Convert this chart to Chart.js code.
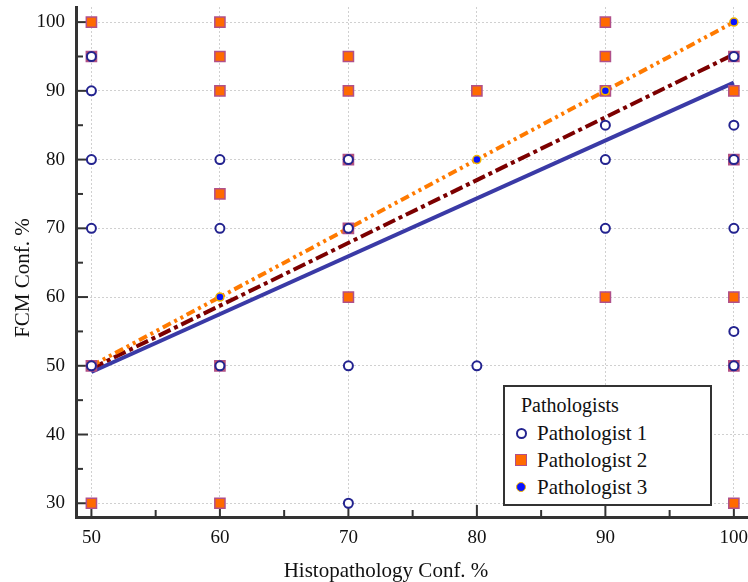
<!DOCTYPE html>
<html>
<head>
<meta charset="utf-8">
<script src="https://cdn.jsdelivr.net/npm/chart.js@4.4.0/dist/chart.umd.min.js"></script>
<style>
html,body{margin:0;padding:0;background:#fff;}
#wrap{position:relative;width:748px;height:582px;overflow:hidden;font-family:"Liberation Serif","DejaVu Serif",serif;color:#111;}
#c{position:absolute;left:0;top:0;}
#xt{position:absolute;left:0;width:772px;top:557px;height:26px;line-height:26px;text-align:center;font-size:21px;}
#yt{position:absolute;left:-128px;top:265px;width:300px;height:26px;line-height:26px;text-align:center;font-size:21px;transform:rotate(-90deg);}
#leg{position:absolute;left:503px;top:385px;width:205px;height:117px;border:2px solid #333;background:#fff;}
#leg .ttl{position:absolute;left:16px;top:6px;font-size:20px;line-height:24px;white-space:nowrap;}
#leg .row{position:absolute;left:0;height:26px;width:200px;}
#leg .mk{position:absolute;box-sizing:border-box;}
#leg .lb{position:absolute;left:32px;top:0;font-size:21px;line-height:26px;white-space:nowrap;}
</style>
</head>
<body>
<div id="wrap">
<canvas id="c" width="748" height="582"></canvas>
<div id="xt"></div>
<div id="yt"></div>
<div id="leg"></div>
</div>
<script>
// ---- data ----
const xAxisTitle = 'Histopathology Conf. %';
const yAxisTitle = 'FCM Conf. %';
const legendTitle = 'Pathologists';
const seriesNames = ['Pathologist 1', 'Pathologist 2', 'Pathologist 3'];

const xMajorTicks = [50, 60, 70, 80, 90, 100];
const xMinorTicks = [55, 65, 75, 85, 95];
const yMajorTicks = [30, 40, 50, 60, 70, 80, 90, 100];
const yMinorTicks = [35, 45, 55, 65, 75, 85, 95];

const p1X = [50, 50, 50, 50, 50, 60, 60, 60, 70, 70, 70, 70, 80, 90, 90, 90, 100, 100, 100, 100, 100, 100];
const p1Y = [95, 90, 80, 70, 50, 80, 70, 50, 80, 70, 50, 30, 50, 85, 80, 70, 95, 85, 80, 70, 55, 50];

const p2X = [50, 50, 50, 50, 60, 60, 60, 60, 60, 60, 70, 70, 70, 70, 70, 80, 90, 90, 90, 90, 100, 100, 100, 100, 100, 100];
const p2Y = [100, 95, 50, 30, 100, 95, 90, 75, 50, 30, 95, 90, 80, 70, 60, 90, 100, 95, 90, 60, 95, 90, 80, 60, 50, 30];

const p3X = [50, 60, 70, 80, 90, 100];
const p3Y = [50, 60, 70, 80, 90, 100];

const fitX = [50, 100];
const fit1Y = [49.1, 91.2];
const fit2Y = [49.6, 95.3];
const fit3Y = [50, 100];

// ---- styles ----
const C1 = '#23238f', C2fill = '#ff6a00', C2edge = '#b0508a', C3fill = '#0a14ff', C3edge = '#f0b400';
const L1 = '#3a3aa6', L2 = '#7c0000', L3 = '#ff7a00';

const toPts = (xs, ys) => xs.map((x, i) => ({x: x, y: ys[i]}));
const FONT = '"Liberation Serif", "DejaVu Serif", serif';

const inwardTicks = {
  id: 'inwardTicks',
  beforeDatasetsDraw(chart) {
    const {ctx, chartArea: a, scales: {x, y}} = chart;
    ctx.save();
    ctx.strokeStyle = '#333';
    ctx.lineWidth = 2;
    const seg = (x1, y1, x2, y2) => { ctx.beginPath(); ctx.moveTo(x1, y1); ctx.lineTo(x2, y2); ctx.stroke(); };
    xMajorTicks.forEach(v => { const p = x.getPixelForValue(v); seg(p, a.bottom, p, a.bottom - 12); });
    xMinorTicks.forEach(v => { const p = x.getPixelForValue(v); seg(p, a.bottom, p, a.bottom - 7); });
    yMajorTicks.forEach(v => { const p = y.getPixelForValue(v); seg(a.left, p, a.left + 12, p); });
    yMinorTicks.forEach(v => { const p = y.getPixelForValue(v); seg(a.left, p, a.left + 7, p); });
    ctx.restore();
  }
};

const tickFont = {family: FONT, size: 19};

new Chart(document.getElementById('c'), {
  type: 'scatter',
  data: {
    datasets: [
      {label: seriesNames[0], data: toPts(p1X, p1Y), showLine: false, pointStyle: 'circle', pointRadius: 4.5,
       pointBackgroundColor: '#fff', pointBorderColor: C1, pointBorderWidth: 2, order: 0},
      {label: seriesNames[1], data: toPts(p2X, p2Y), showLine: false, pointStyle: 'rect', pointRadius: 7.2,
       pointBackgroundColor: C2fill, pointBorderColor: C2edge, pointBorderWidth: 1.5, order: 2},
      {label: seriesNames[2], data: toPts(p3X, p3Y), showLine: false, pointStyle: 'circle', pointRadius: 4,
       pointBackgroundColor: C3fill, pointBorderColor: C3edge, pointBorderWidth: 1.5, order: 1},
      {label: 'fit1', data: toPts(fitX, fit1Y), showLine: true, pointRadius: 0, borderColor: L1, borderWidth: 4, order: 5},
      {label: 'fit2', data: toPts(fitX, fit2Y), showLine: true, pointRadius: 0, borderColor: L2, borderWidth: 4,
       borderDash: [13, 4, 4, 4], order: 4},
      {label: 'fit3', data: toPts(fitX, fit3Y), showLine: true, pointRadius: 0, borderColor: L3, borderWidth: 4,
       borderDash: [9, 4, 3, 4, 3, 4], order: 3}
    ]
  },
  options: {
    responsive: false,
    animation: false,
    events: [],
    layout: {autoPadding: false, padding: {top: 7, right: 0, bottom: 0, left: 0}},
    plugins: {legend: {display: false}, tooltip: {enabled: false}},
    scales: {
      x: {
        type: 'linear', min: 48.8, max: 101.1,
        afterBuildTicks: s => { s.ticks = xMajorTicks.map(v => ({value: v})); },
        afterFit: s => { s.height = 65; s.paddingLeft = 0; s.paddingRight = 0; },
        ticks: {font: tickFont, color: '#111', padding: 10, maxRotation: 0, autoSkip: false},
        grid: {display: true, drawTicks: false, color: '#d0d0d0', lineWidth: 1},
        border: {display: true, color: '#333', width: 3, dash: [2, 2]},
        title: {display: false}
      },
      y: {
        type: 'linear', min: 28.0, max: 102.2,
        afterBuildTicks: s => { s.ticks = yMajorTicks.map(v => ({value: v})); },
        afterFit: s => { s.width = 76; s.paddingTop = 0; s.paddingBottom = 0; },
        ticks: {font: tickFont, color: '#111', padding: 11, autoSkip: false},
        grid: {display: true, drawTicks: false, color: '#d0d0d0', lineWidth: 1},
        border: {display: true, color: '#333', width: 3, dash: [2, 2]},
        title: {display: false}
      }
    }
  },
  plugins: [inwardTicks]
});

// ---- axis titles and legend (HTML text) ----
document.getElementById('xt').textContent = xAxisTitle;
document.getElementById('yt').textContent = yAxisTitle;
const leg = document.getElementById('leg');
const t = document.createElement('div'); t.className = 'ttl'; t.textContent = legendTitle; leg.appendChild(t);
const markers = [
  {w: 11, h: 11, r: '50%', bg: '#fff', bd: '2px solid ' + C1},
  {w: 12, h: 12, r: '0', bg: C2fill, bd: '1.5px solid ' + C2edge},
  {w: 10, h: 10, r: '50%', bg: C3fill, bd: '1.5px solid ' + C3edge}
];
const rowTops = [33, 60, 87];
seriesNames.forEach((n, i) => {
  const row = document.createElement('div'); row.className = 'row'; row.style.top = rowTops[i] + 'px';
  const m = document.createElement('span'); m.className = 'mk';
  const mk = markers[i];
  m.style.width = mk.w + 'px'; m.style.height = mk.h + 'px'; m.style.borderRadius = mk.r;
  m.style.background = mk.bg; m.style.border = mk.bd;
  m.style.left = (16 - mk.w / 2) + 'px'; m.style.top = (13 - mk.h / 2) + 'px';
  const lb = document.createElement('span'); lb.className = 'lb'; lb.textContent = n;
  row.appendChild(m); row.appendChild(lb); leg.appendChild(row);
});
</script>
</body>
</html>
